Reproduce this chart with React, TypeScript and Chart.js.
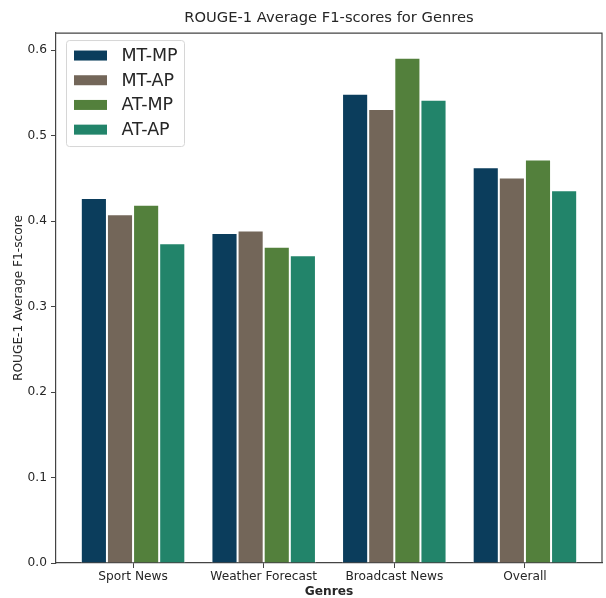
import React, { useEffect, useRef } from 'react';
import { Chart, registerables } from 'chart.js';

Chart.register(...registerables);

// Genres on the x axis and the four system variants compared within each genre
const genres = ['Sport News', 'Weather Forecast', 'Broadcast News', 'Overall'];
const seriesNames = ['MT-MP', 'MT-AP', 'AT-MP', 'AT-AP'];

// ROUGE-1 average F1-scores per genre
const mtMp = [0.427, 0.386, 0.549, 0.463];
const mtAp = [0.408, 0.389, 0.531, 0.451];
const atMp = [0.419, 0.370, 0.591, 0.472];
const atAp = [0.374, 0.360, 0.542, 0.436];

const seriesColors = ['#0B3D5C', '#736659', '#53803C', '#22846A'];
const yTicks = [0, 0.1, 0.2, 0.3, 0.4, 0.5, 0.6];

const FONT = "'DejaVu Sans', sans-serif";
const TEXT = '#262626';
const SPINE = '#444444';
const LABEL_SIZE = 12.2;

// Top and right spines to close the frame around the plot area
const framePlugin = {
  id: 'frame',
  afterDraw(chart: any) {
    const { ctx, chartArea: a } = chart;
    ctx.save();
    ctx.strokeStyle = SPINE;
    ctx.lineWidth = 1.2;
    ctx.beginPath();
    ctx.moveTo(a.left, a.top);
    ctx.lineTo(a.right, a.top);
    ctx.lineTo(a.right, a.bottom);
    ctx.stroke();
    ctx.restore();
  },
};

// Boxed legend sitting in the upper-left corner of the plot area
const boxLegendPlugin = {
  id: 'boxLegend',
  afterDraw(chart: any) {
    const { ctx, chartArea: a } = chart;
    const sets = chart.data.datasets;
    const x0 = a.left + 10.5;
    const y0 = a.top + 7.5;
    const w = 118;
    const rowH = 24.7;
    const h = 106;
    ctx.save();
    ctx.beginPath();
    const r = 3;
    ctx.moveTo(x0 + r, y0);
    ctx.arcTo(x0 + w, y0, x0 + w, y0 + h, r);
    ctx.arcTo(x0 + w, y0 + h, x0, y0 + h, r);
    ctx.arcTo(x0, y0 + h, x0, y0, r);
    ctx.arcTo(x0, y0, x0 + w, y0, r);
    ctx.closePath();
    ctx.fillStyle = 'rgba(255,255,255,0.85)';
    ctx.fill();
    ctx.strokeStyle = '#d6d6d6';
    ctx.lineWidth = 1;
    ctx.stroke();
    ctx.font = `17.5px ${FONT}`;
    ctx.textBaseline = 'middle';
    ctx.textAlign = 'left';
    sets.forEach((ds: any, i: number) => {
      const cy = y0 + 15 + i * rowH;
      ctx.fillStyle = ds.backgroundColor;
      ctx.fillRect(x0 + 7.5, cy - 5, 33, 10);
      ctx.fillStyle = TEXT;
      ctx.fillText(ds.label, x0 + 55, cy + 1);
    });
    ctx.restore();
  },
};

const seriesValues = [mtMp, mtAp, atMp, atAp];

export default function App() {
  const canvasRef = useRef<HTMLCanvasElement | null>(null);

  useEffect(() => {
    const canvas = canvasRef.current;
    if (!canvas) return;

    const datasets = seriesNames.map((name, s) => ({
      label: name,
      data: seriesValues[s].map((v, i) => ({ x: i, y: v })),
      backgroundColor: seriesColors[s],
      borderColor: 'rgba(255,255,255,0.85)',
      borderWidth: 1,
      categoryPercentage: 0.8,
      barPercentage: 1.0,
    }));

    const chart = new Chart(canvas, {
      type: 'bar',
      data: { datasets },
      plugins: [framePlugin, boxLegendPlugin],
      options: {
        responsive: false,
        animation: false,
        layout: { padding: { left: 0, right: 4, top: 0, bottom: 0 } },
        plugins: {
          legend: { display: false },
          tooltip: { enabled: false },
          title: {
            display: true,
            fullSize: false,
            text: 'ROUGE-1 Average F1-scores for Genres',
            color: TEXT,
            font: { family: FONT, size: 14.7, weight: 'normal' },
            padding: { top: 9, bottom: 6.4 },
          },
        },
        scales: {
          x: {
            type: 'linear',
            offset: false,
            min: -0.59,
            max: 3.59,
            afterBuildTicks: (scale: any) => {
              scale.ticks = genres.map((_, i) => ({ value: i }));
            },
            afterFit: (scale: any) => {
              scale.height = 35;
            },
            ticks: {
              callback: (v: any) => genres[Number(v)] ?? '',
              color: TEXT,
              font: { family: FONT, size: LABEL_SIZE },
              padding: 2,
              maxRotation: 0,
              autoSkip: false,
            },
            grid: {
              offset: false,
              drawOnChartArea: false,
              drawTicks: true,
              tickLength: 5,
              tickColor: SPINE,
              tickWidth: 1,
            },
            border: { display: true, color: SPINE, width: 1.2 },
            title: {
              display: true,
              text: 'Genres',
              color: TEXT,
              font: { family: FONT, size: LABEL_SIZE, weight: 'bold', lineHeight: 1 },
              padding: { top: 0, bottom: 0 },
            },
          },
          y: {
            min: 0,
            max: 0.62,
            afterBuildTicks: (scale: any) => {
              scale.ticks = yTicks.map((v) => ({ value: v }));
            },
            afterFit: (scale: any) => {
              scale.width = 56;
            },
            ticks: {
              callback: (v: any) => Number(v).toFixed(1),
              color: TEXT,
              font: { family: FONT, size: LABEL_SIZE },
              padding: 4,
            },
            grid: {
              drawOnChartArea: false,
              drawTicks: true,
              tickLength: 5,
              tickColor: SPINE,
              tickWidth: 1,
            },
            border: { display: true, color: SPINE, width: 1.2 },
            title: {
              display: true,
              text: 'ROUGE-1 Average F1-score',
              color: TEXT,
              font: { family: FONT, size: LABEL_SIZE, weight: 'normal' },
              padding: { top: 12, bottom: 0 },
            },
          },
        },
      },
    } as any);

    return () => chart.destroy();
  }, []);

  return (
    <div style={{ position: 'absolute', left: 0, top: 0, width: 606, height: 598, background: '#ffffff' }}>
      <canvas ref={canvasRef} width={606} height={598} style={{ display: 'block' }} />
    </div>
  );
}
